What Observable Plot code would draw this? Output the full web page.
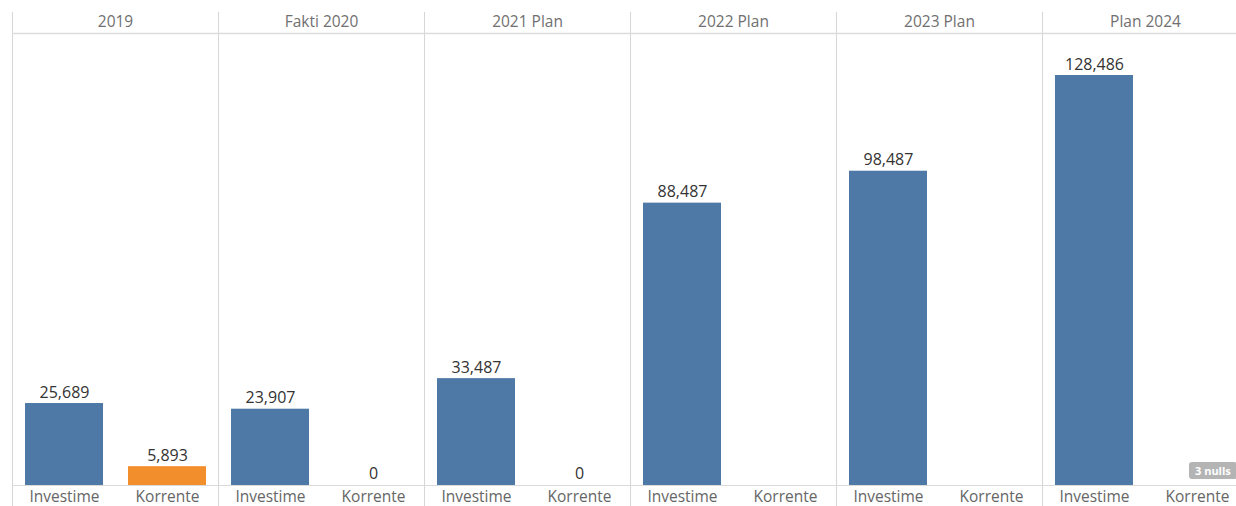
<!DOCTYPE html>
<html>
<head>
<meta charset="utf-8">
<script src="https://cdn.jsdelivr.net/npm/d3@7"></script>
<script src="https://cdn.jsdelivr.net/npm/@observablehq/plot@0.6"></script>
<style>
  html, body { margin: 0; padding: 0; overflow: hidden; background: #fff; }
  #wrap { position: relative; width: 1236px; height: 506px; overflow: hidden; }
  #chart svg { max-width: none !important; }
  #nulls { position: absolute; left: 1189px; top: 462px; height: 17px; padding: 0 6px;
    background: #b4b4b4; color: #fff; font: bold 11px "Open Sans", sans-serif; line-height: 17px;
    border-radius: 3px; white-space: nowrap; }
</style>
</head>
<body>
<div id="wrap"><div id="chart"></div><div id="nulls">3 nulls</div></div>
<script>
const years = ["2019", "Fakti 2020", "2021 Plan", "2022 Plan", "2023 Plan", "Plan 2024"];
const types = ["Investime", "Korrente"];
const investime = [25689, 23907, 33487, 88487, 98487, 128486];
const korrente = [5893, 0, 0, null, null, null];
const colors = ["#4e79a7", "#f28e2b"];

const rows = [];
years.forEach((y, i) => {
  rows.push({year: y, type: types[0], value: investime[i]});
  rows.push({year: y, type: types[1], value: korrente[i]});
});
const present = rows.filter(d => d.value != null);
const fmt = d3.format(",");

const chart = Plot.plot({
  width: 1250.3,
  height: 506,
  marginLeft: 9.5,
  marginRight: 0,
  marginTop: 33,
  marginBottom: 21,
  style: {fontFamily: "'Open Sans', sans-serif", fontSize: "16px", background: "#fff", maxWidth: "none"},
  fx: {domain: years, padding: 0, axis: null},
  x: {domain: types, padding: 0},
  y: {domain: [0, 141650], axis: null},
  color: {domain: types, range: colors},
  marks: [
    Plot.frame({anchor: "left", stroke: "#d6d6d6", insetTop: -21, insetBottom: -21}),
    Plot.ruleY([141650], {stroke: "#dcdcdc", strokeWidth: 1.5}),
    Plot.ruleY([0], {stroke: "#d9d9d9"}),
    Plot.barY(present, {fx: "year", x: "type", y: "value", fill: "type", insetLeft: 12.5, insetRight: 12.5}),
    Plot.text(present, {fx: "year", x: "type", y: "value", text: d => fmt(d.value),
      lineAnchor: "bottom", dy: -6, fill: "#333", fontSize: 16}),
    Plot.text(years, {fx: d => d, frameAnchor: "top", dy: -11, lineAnchor: "middle", text: d => d, fill: "#707070", fontSize: 15.5}),
    Plot.axisX({anchor: "bottom", tickSize: 0, tickPadding: 5, label: null, color: "#666", fontSize: 15.5})
  ]
});
document.getElementById("chart").appendChild(chart);
</script>
</body>
</html>
